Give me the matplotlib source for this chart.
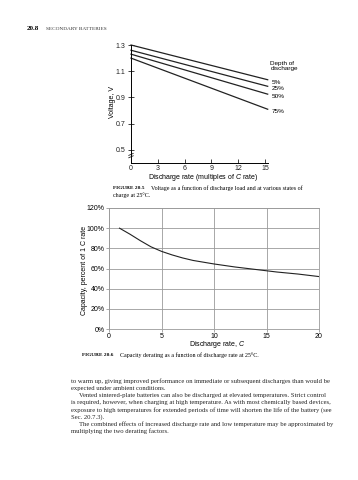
import matplotlib
matplotlib.use("Agg")
import matplotlib.pyplot as plt
import numpy as np

# Figure 20.5 - voltage vs discharge rate at several depths of discharge
depth_labels = ["5%", "25%", "50%", "75%"]
rate_ends = [0.0, 15.3]
volt_start = [1.30, 1.26, 1.23, 1.20]
volt_end = [1.035, 0.985, 0.925, 0.81]
volt_ticks = [0.5, 0.7, 0.9, 1.1, 1.3]
rate_ticks = [0, 3, 6, 9, 12, 15]

# Figure 20.6 - capacity derating
cap_rate = [1, 2, 3, 4, 5, 6, 7, 8, 10, 12, 14, 16, 18, 20]
cap_pct = [100, 94, 87.5, 81.5, 77, 73.5, 70.5, 68, 64.5, 61.5, 59, 56.5, 54.5, 52]
cap_ticks = [0, 20, 40, 60, 80, 100, 120]
cap_xticks = [0, 5, 10, 15, 20]

body_lines = [
    "to warm up, giving improved performance on immediate or subsequent discharges than would be",
    "expected under ambient conditions.",
    "Vented sintered-plate batteries can also be discharged at elevated temperatures. Strict control",
    "is required, however, when charging at high temperature. As with most chemically based devices,",
    "exposure to high temperatures for extended periods of time will shorten the life of the battery (see",
    "Sec. 20.7.3).",
    "The combined effects of increased discharge rate and low temperature may be approximated by",
    "multiplying the two derating factors.",
]
indented = [2, 6]

W, H = 358, 480
sans = "Liberation Sans"
serif = "Liberation Serif"

plt.rcParams["mathtext.fontset"] = "custom"
plt.rcParams["mathtext.rm"] = "Liberation Sans"
plt.rcParams["mathtext.it"] = "Liberation Sans:italic"


def fx(x):
    return x / W


def fy(y):
    return 1 - y / H


fig = plt.figure(figsize=(W / 100, H / 100), dpi=100)
fig.patch.set_facecolor("white")

# page header
fig.text(fx(27), fy(29), "20.8", family=serif, weight="bold", fontsize=5, va="center")
fig.text(fx(46), fy(29), "SECONDARY BATTERIES", family=serif, fontsize=3.8, va="center", color="#333333")

# ---- top chart ----
ax1 = fig.add_axes([fx(131), fy(163), fx(136.7), (163 - 45) / H])
for i, lab in enumerate(depth_labels):
    ax1.plot(rate_ends, [volt_start[i], volt_end[i]], color="#222222", lw=0.9, clip_on=False)
ax1.set_xlim(0, 15.3)
ax1.set_ylim(0.4, 1.3)
ax1.spines["top"].set_visible(False)
ax1.spines["right"].set_visible(False)
for s in ["left", "bottom"]:
    ax1.spines[s].set_linewidth(0.7)
ax1.set_yticks(volt_ticks)
ax1.set_yticklabels([f"{v:.1f}" for v in volt_ticks])
ax1.set_xticks(rate_ticks)
ax1.tick_params(axis="y", direction="inout", length=4, width=0.6, labelsize=5, pad=2, colors="#222222")
ax1.tick_params(axis="x", direction="in", length=3, width=0.6, labelsize=5, pad=1.5, colors="#222222")
for t in ax1.get_xticklabels() + ax1.get_yticklabels():
    t.set_family(sans)
# axis break marks
for dy in (0.0, 0.018):
    ax1.plot([-0.25, 0.25], [0.44 + dy, 0.455 + dy], color="#222222", lw=0.6, clip_on=False)
ax1.text(15.6, 1.14, "Depth of\ndischarge", family=sans, fontsize=4.6, va="center", ha="left",
         linespacing=1.1)
for i, lab in enumerate(depth_labels):
    ax1.text(15.75, volt_end[i] - 0.02, lab, family=sans, fontsize=4.6, va="center", ha="left")

fig.text(fx(113), fy(102), "Voltage, V", family=sans, fontsize=5, rotation=90, ha="center", va="center")
fig.text(fx(203), fy(177.5), r"Discharge rate (multiples of $C$ rate)", family=sans, fontsize=5,
         ha="center", va="center")

fig.text(fx(113), fy(188), "FIGURE 20.5", family=serif, weight="bold", fontsize=3.9, va="center")
fig.text(fx(151), fy(188), "Voltage as a function of discharge load and at various states of",
         family=serif, fontsize=4.3, va="center")
fig.text(fx(113), fy(195), "charge at 25°C.", family=serif, fontsize=4.3, va="center")

# ---- bottom chart ----
ax2 = fig.add_axes([fx(109), fy(329), fx(210), (329 - 208) / H])
ax2.plot(cap_rate, cap_pct, color="#222222", lw=0.8)
ax2.set_xlim(0, 20)
ax2.set_ylim(0, 120)
ax2.set_xticks(cap_xticks)
ax2.set_yticks(cap_ticks)
ax2.set_yticklabels([f"{v}%" for v in cap_ticks])
ax2.grid(True, color="#9a9a9a", lw=0.6)
for s in ax2.spines.values():
    s.set_color("#9a9a9a")
    s.set_linewidth(0.6)
ax2.tick_params(length=2, width=0.6, color="#9a9a9a", labelsize=5, pad=1)
for t in ax2.get_xticklabels() + ax2.get_yticklabels():
    t.set_family(sans)
ax2.set_axisbelow(True)

fig.text(fx(85), fy(270), "Capacity, percent of 1 C rate", family=sans, fontsize=5, rotation=90,
         ha="center", va="center")
fig.text(fx(217), fy(344.5), r"Discharge rate, $C$", family=sans, fontsize=5, ha="center", va="center")

fig.text(fx(82), fy(355.5), "FIGURE 20.6", family=serif, weight="bold", fontsize=3.9, va="center")
fig.text(fx(120), fy(355.5), "Capacity derating as a function of discharge rate at 25°C.",
         family=serif, fontsize=4.3, va="center")

# body text
for i, line in enumerate(body_lines):
    x0 = 79 if i in indented else 71
    fig.text(fx(x0), fy(381.5 + i * 7.1), line, family=serif, fontsize=4.75, va="center", color="#222222")

fig.savefig("out.png", dpi=100)
